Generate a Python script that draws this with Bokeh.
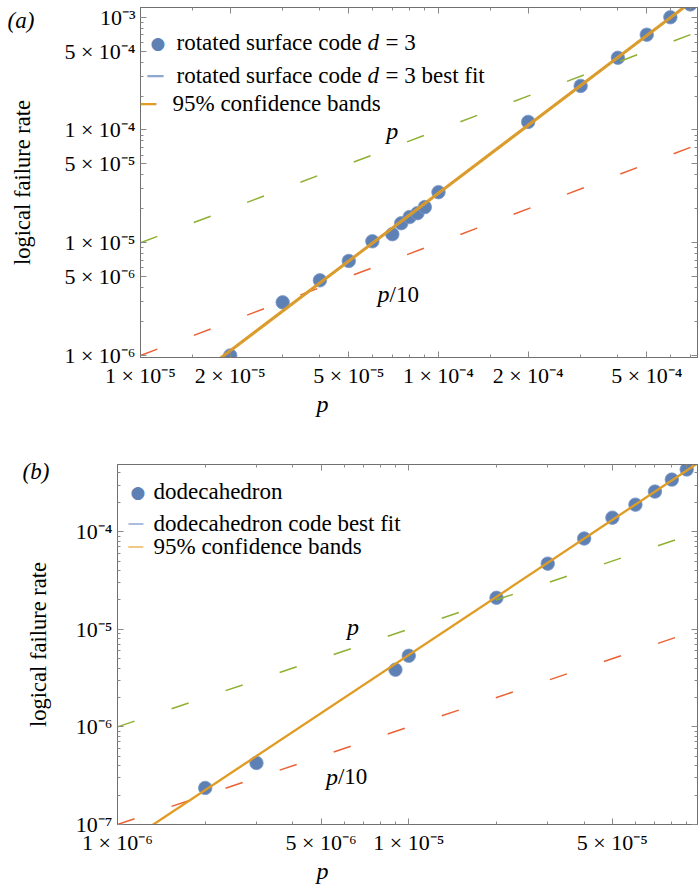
from bokeh.plotting import figure
from bokeh.models import LogAxis, FixedTicker, Label, Range1d, CustomJSTickFormatter, Title
from bokeh.embed import file_html
from bokeh.resources import INLINE
import numpy as np

SERIF = "Liberation Serif"
BLUE = "#5E81B5"
ORANGE = "#E19C24"
GREEN = "#8FB032"
RED = "#EB6235"
FRAME = "#707070"
TICK = "#8a8a8a"

# ---------------- panel (a): rotated surface code d = 3 ----------------
a_p = [2e-5, 3e-5, 4e-5, 5e-5, 6e-5, 7e-5, 7.5e-5, 8e-5, 8.5e-5, 9e-5,
       1e-4, 2e-4, 3e-4, 4e-4, 5e-4, 6e-4, 7e-4]
a_rate = [1.0e-6, 2.96e-6, 4.64e-6, 6.9e-6, 1.03e-5, 1.19e-5, 1.49e-5, 1.69e-5,
          1.83e-5, 2.07e-5, 2.81e-5, 1.18e-4, 2.46e-4, 4.37e-4, 7.0e-4, 1.0e-3, 1.30e-3]
a_fit_coef = 2754.0
a_fit_exp = 2.0
a_band = 1.02
a_x_range = [1e-5, 7.4e-4]
a_y_range = [9.6e-7, 1.22e-3]
a_xticks = [1e-5, 2e-5, 5e-5, 1e-4, 2e-4, 5e-4]
a_xtick_labels = ["1 × 10⁻⁵", "2 × 10⁻⁵", "5 × 10⁻⁵", "1 × 10⁻⁴", "2 × 10⁻⁴", "5 × 10⁻⁴"]
a_xminor = [1.5e-5, 3e-5, 4e-5, 6e-5, 7e-5, 8e-5, 9e-5, 1.5e-4, 3e-4, 4e-4, 6e-4, 7e-4]
a_yticks = [1e-6, 5e-6, 1e-5, 5e-5, 1e-4, 5e-4, 1e-3]
a_ytick_labels = ["1 × 10⁻⁶", "5 × 10⁻⁶", "1 × 10⁻⁵", "5 × 10⁻⁵", "1 × 10⁻⁴", "5 × 10⁻⁴", "10⁻³"]
a_yminor = [m * 10.0 ** e for e in (-6, -5, -4) for m in (2, 3, 4, 6, 7, 8, 9)]

# ---------------- panel (b): dodecahedron ----------------
b_p = [2e-6, 3e-6, 9e-6, 1e-5, 2e-5, 3e-5, 4e-5, 5e-5, 6e-5, 7e-5, 8e-5, 9e-5]
b_rate = [2.37e-7, 4.27e-7, 3.85e-6, 5.35e-6, 2.1e-5, 4.7e-5, 8.5e-5, 1.39e-4,
          1.89e-4, 2.57e-4, 3.41e-4, 4.33e-4]
b_fit_coef = 4.33e4
b_fit_exp = 1.98
b_band = 1.012
b_x_range = [1e-6, 9.8e-5]
b_y_range = [1e-7, 4.87e-4]
b_xticks = [1e-6, 5e-6, 1e-5, 5e-5]
b_xtick_labels = ["1 × 10⁻⁶", "5 × 10⁻⁶", "1 × 10⁻⁵", "5 × 10⁻⁵"]
b_xminor = [m * 10.0 ** e for e in (-6, -5) for m in (2, 3, 4, 6, 7, 8, 9)]
b_yticks = [1e-7, 1e-6, 1e-5, 1e-4]
b_ytick_labels = ["10⁻⁷", "10⁻⁶", "10⁻⁵", "10⁻⁴"]
b_yminor = [m * 10.0 ** e for e in (-7, -6, -5, -4) for m in (2, 3, 4, 5, 6, 7, 8, 9)]


def style_axis(ax, labels=True):
    ax.axis_line_color = FRAME
    ax.major_tick_in = 6
    ax.major_tick_out = 0
    ax.minor_tick_in = 3
    ax.minor_tick_out = 0
    ax.major_tick_line_color = TICK
    ax.minor_tick_line_color = TICK
    if labels:
        ax.major_label_text_font = SERIF
        ax.major_label_text_font_size = "22px"
        ax.major_label_text_color = "black"
        ax.major_label_standoff = 5
    else:
        ax.formatter = CustomJSTickFormatter(code="return ''")
        ax.major_label_text_font_size = "1px"
        ax.major_label_standoff = 0


def lab(p, text, x, y, dx, dy, size="23px", style="normal", align="left",
        font=SERIF, color="black", alpha=1.0):
    p.add_layout(Label(x=x, y=y, x_offset=dx, y_offset=dy, text=text,
                       text_font=font, text_font_size=size, text_font_style=style,
                       text_align=align, text_baseline="middle", text_color=color,
                       text_alpha=alpha))


def panel(px, rate, coef, expo, band, xr, yr, xt, xtl, xmn, yt, ytl, ymn,
          width, height, bl, bt, bb, label_standoff, tag, tag_offset, tag_standoff,
          xlabel_offset):
    p = figure(x_axis_type="log", y_axis_type="log",
               x_range=Range1d(*xr), y_range=Range1d(*yr),
               width=width, height=height, output_backend="svg",
               toolbar_location=None, min_border_left=bl, min_border_right=2,
               min_border_top=bt, min_border_bottom=bb)
    p.title = Title(text=tag, align="left", offset=tag_offset, standoff=tag_standoff,
                    vertical_align="bottom", text_font=SERIF, text_font_size="23px",
                    text_font_style="italic", text_color="black")
    p.outline_line_color = FRAME
    p.grid.visible = False
    p.background_fill_color = "white"

    p.xaxis.ticker = FixedTicker(ticks=xt, minor_ticks=xmn)
    p.yaxis.ticker = FixedTicker(ticks=yt, minor_ticks=ymn)
    p.xaxis.major_label_overrides = dict(zip(xt, xtl))
    p.yaxis.major_label_overrides = dict(zip(yt, ytl))
    style_axis(p.xaxis[0])
    style_axis(p.yaxis[0])
    p.yaxis.axis_label = "logical failure rate"
    p.yaxis.axis_label_text_font = SERIF
    p.yaxis.axis_label_text_font_size = "22.5px"
    p.yaxis.axis_label_text_font_style = "normal"
    p.yaxis.axis_label_text_color = "black"
    p.yaxis.axis_label_standoff = label_standoff

    top = LogAxis(ticker=FixedTicker(ticks=xt, minor_ticks=xmn))
    style_axis(top, labels=False)
    p.add_layout(top, "above")
    right = LogAxis(ticker=FixedTicker(ticks=yt, minor_ticks=ymn))
    style_axis(right, labels=False)
    p.add_layout(right, "right")

    p.add_layout(Title(text="p", align="left", offset=xlabel_offset,
                       standoff=0, vertical_align="top", text_font=SERIF,
                       text_font_size="24px", text_font_style="italic",
                       text_color="black"), "below")

    xs = np.array(xr)
    p.scatter(px, rate, size=13.5, color=BLUE, line_color="#7d99c6", line_width=0.8)
    p.line(xs, xs, line_color=GREEN, line_width=1.5, line_dash="18 39")
    p.line(xs, xs / 10, line_color=RED, line_width=1.5, line_dash="18 39")
    fit = coef * xs ** expo
    p.line(xs, fit, line_color=BLUE, line_width=1)
    p.line(xs, fit * band, line_color=ORANGE, line_width=1.5)
    p.line(xs, fit / band, line_color=ORANGE, line_width=1.5)
    return p


pa = panel(a_p, a_rate, a_fit_coef, a_fit_exp, a_band, a_x_range, a_y_range,
           a_xticks, a_xtick_labels, a_xminor, a_yticks, a_ytick_labels, a_yminor,
           699, 455, 140, 7, 98, 26, "(a)", -133, -51, 176)
pb = panel(b_p, b_rate, b_fit_coef, b_fit_exp, b_band, b_x_range, b_y_range,
           b_xticks, b_xtick_labels, b_xminor, b_yticks, b_ytick_labels, b_yminor,
           699, 435, 117, 9, 66, 22, "(b)", -95, -39, 199)

LIGHT_BLUE = "#8FA8D2"
MONO = "DejaVu Sans Mono"
# ---- annotations panel (a)
x0, y1 = a_x_range[0], a_y_range[1]
lab(pa, "●", x0, y1, 10, -35, size="17px", font="DejaVu Sans", color=BLUE)
lab(pa, "rotated surface code", x0, y1, 36, -35)
lab(pa, "d", x0, y1, 227, -35, style="italic")
lab(pa, "= 3", x0, y1, 245, -35)
lab(pa, "─", x0, y1, 7, -68, size="26px", font=MONO, color=LIGHT_BLUE)
lab(pa, "rotated surface code", x0, y1, 36, -68)
lab(pa, "d", x0, y1, 227, -68, style="italic")
lab(pa, "= 3 best fit", x0, y1, 245, -68)
lab(pa, "─", x0, y1, 0, -96, size="26px", font=MONO, color=ORANGE)
lab(pa, "95% confidence bands", x0, y1, 32, -96)
lab(pa, "p", 7e-5, 9.8e-5, 0, 0, size="24px", style="italic", align="center")
lab(pa, "p", 6.85e-5, 3.48e-6, 0, 0, size="24px", style="italic", align="right")
lab(pa, "/10", 6.85e-5, 3.48e-6, 0, 0, size="23px")

# ---- annotations panel (b)
x0, y1 = b_x_range[0], b_y_range[1]
lab(pb, "●", x0, y1, 13, -27, size="17px", font="DejaVu Sans", color=BLUE)
lab(pb, "dodecahedron", x0, y1, 36, -27)
lab(pb, "─", x0, y1, 11, -59, size="24px", font=MONO, color="#A9BDE0")
lab(pb, "dodecahedron code best fit", x0, y1, 36, -59)
lab(pb, "─", x0, y1, 11, -82, size="24px", font=MONO, color="#F0C98A")
lab(pb, "95% confidence bands", x0, y1, 36, -82)
lab(pb, "p", 6.43e-6, 1.06e-5, 0, 0, size="24px", style="italic", align="center")
lab(pb, "p", 5.71e-6, 3.07e-7, 0, 0, size="24px", style="italic", align="right")
lab(pb, "/10", 5.71e-6, 3.07e-7, 0, 0, size="23px")

open("out.html", "w").write(file_html([pa, pb], INLINE))
